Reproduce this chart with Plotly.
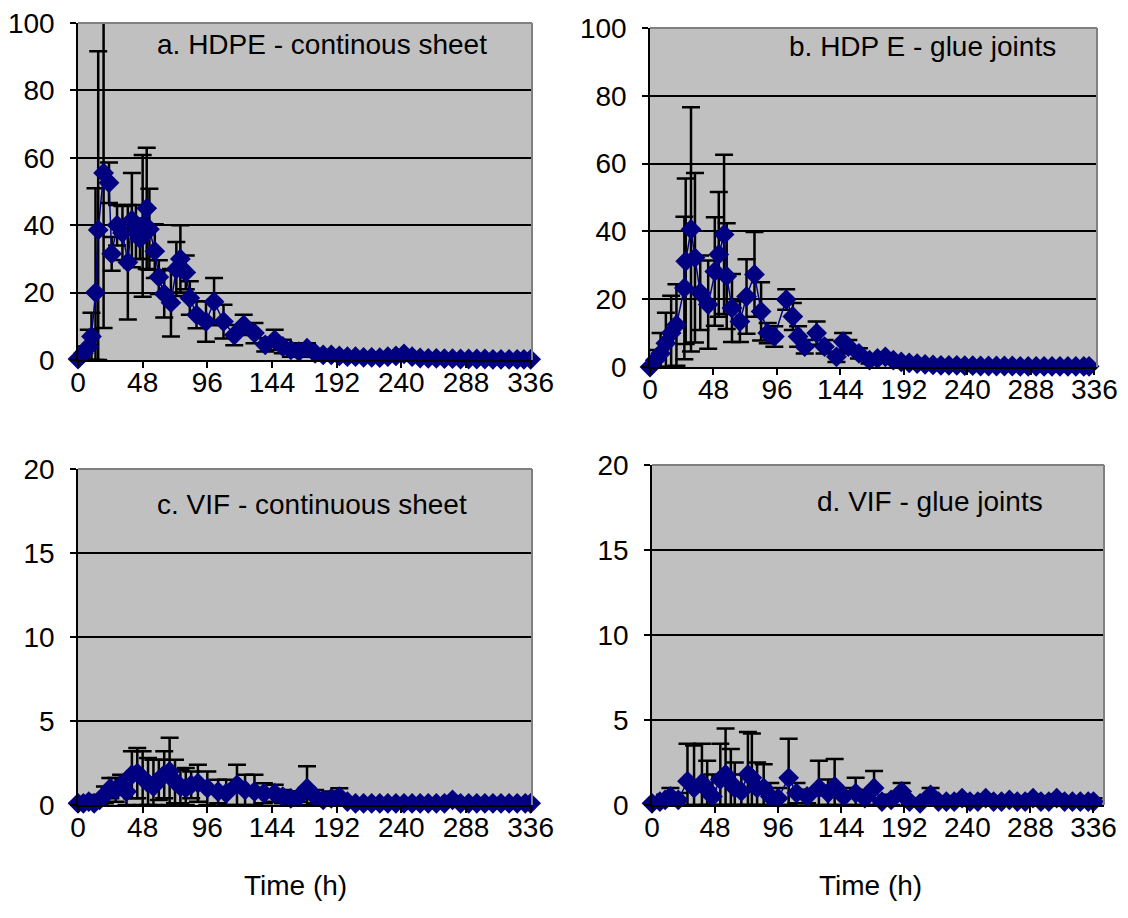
import plotly.graph_objects as go

# ---------------- data ----------------
time_a = [0, 4, 8, 10, 13, 15, 19, 23, 25, 29, 33, 37, 40, 43, 46, 48, 51, 53, 57, 60,
          64, 69, 73, 76, 80, 83, 88, 95, 101, 108, 116, 123, 131, 139, 146, 152, 158, 164, 170, 176,
          182, 188, 194, 200, 206, 212, 218, 224, 230, 236, 242, 248, 254, 260, 266, 272, 278, 284, 290, 296,
          302, 308, 314, 320, 326, 331, 336]
val_a = [0.3, 2, 4, 7, 20, 38.6, 55.5, 52.6, 31.5, 40, 37.7, 29, 41.5, 38, 36, 39.8, 45, 38.8, 32.3, 24.6,
         19.6, 17, 27, 30, 26, 18.4, 13.4, 11.4, 17.3, 11.4, 7.4, 10.4, 8, 4.5, 6, 4, 3, 2.5, 3.5, 2,
         1.5, 1.5, 1.2, 1, 1, 0.8, 0.8, 0.7, 1, 1.2, 1.8, 1, 0.6, 0.5, 0.5, 0.4, 0.4, 0.3, 0.3, 0.3,
         0.3, 0.2, 0.2, 0.2, 0.2, 0.2, 0.2]
err_a = [0.5, 2, 5, 7, 31, 53, 46, 6, 5, 6, 8, 17, 14, 8, 6, 21, 18, 12, 8, 5,
         7, 10, 8, 10, 5, 5, 4, 6, 7, 5, 3, 3, 3, 2, 3, 2, 2, 1.5, 1.5, 1,
         1, 0.8, 0.6, 0.5, 0.5, 0.4, 0.4, 0.4, 0.5, 0.6, 0.8, 0.5, 0.3, 0.3, 0.3, 0.2, 0.2, 0.2, 0.2, 0.2,
         0.2, 0.1, 0.1, 0.1, 0.1, 0.1, 0.1]

time_b = [0, 4, 8, 12, 16, 20, 26, 27, 31, 34, 38, 44, 49, 52, 56, 58, 62, 68, 73, 79,
          84, 89, 94, 103, 108, 112, 117, 126, 132, 141, 146, 150, 158, 166, 172, 178, 184, 190, 196, 202,
          208, 214, 220, 226, 232, 238, 244, 250, 256, 262, 268, 274, 280, 286, 292, 298, 304, 310, 316, 322,
          328, 332]
val_b = [0, 2, 4, 7, 10, 12.4, 23.3, 31.2, 40.6, 32.2, 21.9, 18.4, 28.2, 33.2, 39.1, 26.8, 17.4, 13.4, 20.8, 27.3,
         16.4, 10, 9, 19.9, 14.9, 9, 6, 10, 6, 3, 7.5, 6, 4, 2, 2.5, 3, 2, 1.5, 1.2, 1,
         0.8, 0.6, 0.5, 0.5, 0.5, 0.4, 0.4, 0.3, 0.3, 0.3, 0.3, 0.3, 0.2, 0.2, 0.2, 0.2, 0.2, 0.2, 0.2, 0.2,
         0.2, 0.2]
err_b = [0.5, 3, 6, 9, 11, 12, 21, 24.4, 36, 25, 11, 13, 16, 18.4, 23.5, 15.6, 10, 6, 11, 12.5,
         8.6, 3, 3, 3, 4, 3, 2, 3.4, 2, 1.5, 2.5, 2, 1.5, 1, 1, 1, 0.8, 0.8, 0.6, 0.5,
         0.4, 0.3, 0.3, 0.3, 0.3, 0.2, 0.2, 0.2, 0.2, 0.2, 0.2, 0.2, 0.1, 0.1, 0.1, 0.1, 0.1, 0.1, 0.1, 0.1,
         0.1, 0.1]

time_c = [0, 4, 8, 12, 16, 20, 24, 28, 32, 36, 40, 44, 48, 52, 56, 60, 64, 68, 72, 76,
          80, 84, 89, 96, 104, 110, 118, 124, 131, 138, 146, 152, 158, 164, 170, 176, 182, 188, 194, 200,
          206, 212, 218, 224, 230, 236, 242, 248, 254, 260, 266, 272, 278, 284, 290, 296, 302, 308, 314, 320,
          326, 332, 336]
val_c = [0.1, 0.1, 0.2, 0.1, 0.3, 0.6, 1.0, 0.9, 1.2, 0.8, 1.8, 1.9, 1.6, 1.3, 1.1, 1.5, 1.8, 2.0, 1.4, 1.1,
         1.0, 1.2, 1.3, 1.0, 0.8, 0.7, 1.2, 0.9, 0.8, 0.7, 0.7, 0.5, 0.4, 0.5, 1.0, 0.5, 0.3, 0.4, 0.5, 0.2,
         0.1, 0.1, 0.1, 0.1, 0.1, 0.1, 0.1, 0.1, 0.1, 0.1, 0.1, 0.1, 0.3, 0.1, 0.1, 0.1, 0.1, 0.1, 0.1, 0.1,
         0.1, 0.1, 0.1]
err_c = [0.1, 0.1, 0.2, 0.2, 0.3, 0.5, 0.6, 0.7, 0.6, 0.8, 1.4, 1.5, 1.6, 1.5, 1.6, 1.2, 1.4, 2.0, 1.3, 1.0,
         1.2, 0.8, 1.1, 1.0, 0.7, 0.8, 1.2, 0.9, 1.0, 0.6, 0.5, 0.4, 0.4, 0.3, 1.3, 0.4, 0.3, 0.4, 0.5, 0.2,
         0.1, 0.1, 0.1, 0.1, 0.1, 0.1, 0.1, 0.1, 0.1, 0.1, 0.1, 0.1, 0.2, 0.1, 0.1, 0.1, 0.1, 0.1, 0.1, 0.1,
         0.1, 0.1, 0.1]

time_d = [0, 6, 10, 14, 20, 27, 32, 38, 42, 46, 52, 56, 60, 63, 68, 73, 76, 80, 85, 90,
          96, 104, 110, 118, 127, 134, 139, 146, 155, 162, 169, 175, 182, 190, 196, 204, 212, 218, 224, 230,
          236, 242, 248, 254, 260, 266, 272, 278, 284, 290, 296, 302, 308, 314, 320, 326, 332, 336]
val_d = [0.1, 0.2, 0.3, 0.5, 0.3, 1.4, 1.0, 1.3, 0.9, 0.5, 1.5, 1.8, 1.3, 1.0, 0.8, 1.8, 1.6, 1.0, 1.0, 0.5,
         0.4, 1.6, 0.7, 0.5, 1.0, 0.7, 1.1, 0.5, 0.7, 0.4, 1.0, 0.2, 0.3, 0.8, 0.2, 0.1, 0.6, 0.2, 0.2, 0.2,
         0.4, 0.2, 0.2, 0.4, 0.2, 0.2, 0.3, 0.2, 0.2, 0.4, 0.2, 0.2, 0.4, 0.2, 0.2, 0.2, 0.2, 0.2]
err_d = [0.1, 0.2, 0.3, 0.5, 0.4, 2.2, 2.5, 2.3, 1.7, 1.3, 2.1, 2.7, 2.0, 1.5, 1.0, 2.5, 2.6, 1.5, 1.4, 0.8,
         0.6, 2.3, 0.6, 0.4, 1.6, 0.8, 1.6, 0.5, 0.9, 0.5, 1.0, 0.2, 0.3, 0.5, 0.2, 0.1, 0.4, 0.2, 0.2, 0.2,
         0.2, 0.2, 0.2, 0.2, 0.2, 0.2, 0.2, 0.2, 0.2, 0.2, 0.2, 0.2, 0.2, 0.2, 0.2, 0.2, 0.2, 0.2]

x_ticks = [0, 48, 96, 144, 192, 240, 288, 336]
titles = ["a. HDPE - continous sheet", "b. HDP E - glue joints",
          "c. VIF - continuous sheet", "d. VIF - glue joints"]
x_label = "Time (h)"

# ---------------- layout helpers ----------------
OFF = 8                      # page body margin of the html page
W, H = 1128 - OFF, 918 - OFF
FONT = "Liberation Sans, Arial, sans-serif"
FS = 28


def px(x):
    return (x - OFF) / W


def py(y):
    return 1 - (y - OFF) / H


def xd(a, b):
    return [px(a), px(b)]


def yd(top, bottom):
    return [py(bottom), py(top)]


panels = [
    dict(t=time_a, v=val_a, e=err_a, xdom=xd(78, 532), ydom=yd(23, 360), xmax=337, ymax=100, dt=20,
         title=titles[0], tx=322, ty=45),
    dict(t=time_b, v=val_b, e=err_b, xdom=xd(650, 1097), ydom=yd(28, 367), xmax=338, ymax=100, dt=20,
         title=titles[1], tx=922, ty=47),
    dict(t=time_c, v=val_c, e=err_c, xdom=xd(78, 532), ydom=yd(469, 805), xmax=337, ymax=20, dt=5,
         title=titles[2], tx=312, ty=505),
    dict(t=time_d, v=val_d, e=err_d, xdom=xd(652, 1104), ydom=yd(465, 805), xmax=344, ymax=20, dt=5,
         title=titles[3], tx=930, ty=502),
]

fig = go.Figure()
layout = dict(
    width=W, height=H, margin=dict(l=0, r=0, t=0, b=0, autoexpand=False),
    paper_bgcolor="white", plot_bgcolor="#C0C0C0", showlegend=False,
    font=dict(family=FONT, size=FS, color="black"),
)
shapes = []
annotations = []

for i, p in enumerate(panels):
    n = "" if i == 0 else str(i + 1)
    xa, ya = "x" + n, "y" + n
    minus = [min(e, v) for e, v in zip(p["e"], p["v"])]
    fig.add_trace(go.Scatter(
        x=p["t"], y=p["v"], xaxis=xa, yaxis=ya, mode="lines+markers",
        line=dict(color="#000080", width=1.5),
        marker=dict(symbol="diamond", size=16, color="#000080", line=dict(width=0)),
        error_y=dict(type="data", symmetric=False, array=p["e"], arrayminus=minus,
                     color="black", thickness=2.5, width=9),
        cliponaxis=False,
    ))
    layout["xaxis" + n] = dict(
        domain=p["xdom"], anchor=ya, range=[0, p["xmax"]], tickvals=x_ticks, automargin=False,
        showgrid=False, zeroline=False, showline=True, linecolor="black", linewidth=1.5,
        ticks="outside", ticklen=6, tickwidth=1.5, tickcolor="black", ticklabeloverflow="allow",
        tickfont=dict(family=FONT, size=FS, color="black"), ticklabelstandoff=-9,
    )
    layout["yaxis" + n] = dict(
        domain=p["ydom"], anchor=xa, range=[0, p["ymax"]], dtick=p["dt"], tick0=0, automargin=False,
        showgrid=True, gridcolor="black", gridwidth=1.5, zeroline=False,
        showline=True, linecolor="black", linewidth=1.5, ticklabeloverflow="allow",
        ticks="outside", ticklen=6, tickwidth=1.5, tickcolor="black",
        tickfont=dict(family=FONT, size=FS, color="black"), ticklabelstandoff=10,
    )
    # grey top & right border
    shapes.append(dict(type="line", xref=xa + " domain", yref=ya + " domain",
                       x0=0, x1=1, y0=1, y1=1, line=dict(color="#808080", width=2), layer="above"))
    shapes.append(dict(type="line", xref=xa + " domain", yref=ya + " domain",
                       x0=1, x1=1, y0=0, y1=1, line=dict(color="#808080", width=2), layer="above"))
    annotations.append(dict(text=p["title"], xref="paper", yref="paper",
                            x=px(p["tx"]), y=py(p["ty"]), xanchor="center", yanchor="middle",
                            showarrow=False, font=dict(family=FONT, size=FS, color="black")))

annotations.append(dict(text=x_label, xref="paper", yref="paper", x=px(295), y=py(885),
                        xanchor="center", yanchor="middle", showarrow=False,
                        font=dict(family=FONT, size=FS, color="black")))
annotations.append(dict(text=x_label, xref="paper", yref="paper", x=px(870), y=py(885),
                        xanchor="center", yanchor="middle", showarrow=False,
                        font=dict(family=FONT, size=FS, color="black")))

layout["shapes"] = shapes
layout["annotations"] = annotations
fig.update_layout(**layout)
fig.write_html("out.html")
